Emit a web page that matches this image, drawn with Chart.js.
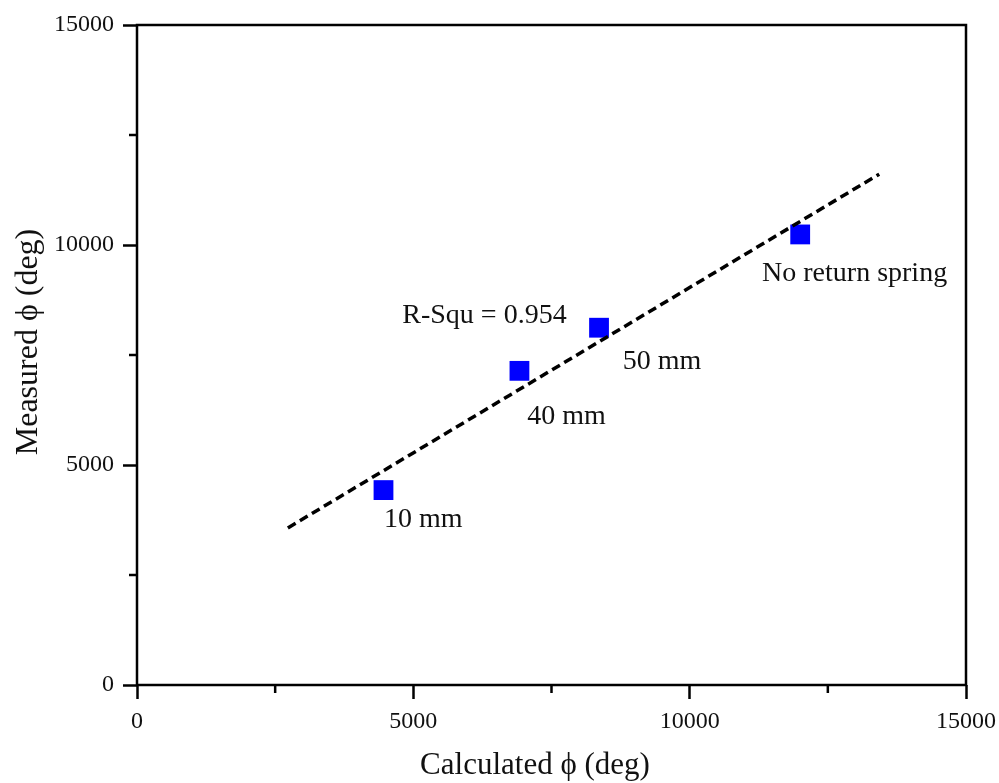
<!DOCTYPE html>
<html>
<head>
<meta charset="utf-8">
<script src="https://cdn.jsdelivr.net/npm/chart.js@4"></script>
<style>
  html, body { margin: 0; padding: 0; background: #fff; }
  #wrap { width: 999px; height: 783px; }
</style>
</head>
<body>
<div id="wrap"><canvas id="scatter"></canvas></div>
<script>
// measured vs calculated rotation
const labels = ["10 mm", "40 mm", "50 mm", "No return spring"];
const calculated = [4460, 6920, 8360, 12000];
const measured = [4430, 7140, 8120, 10240];

// linear fit end points
const fitX = [2730, 13430];
const fitY = [3570, 11610];
const rSquared = "R-Squ = 0.954";

// where the text labels sit (data units)
const labelX = [4470, 7060, 8790, 11310];
const labelY = [3750, 6090, 7340, 9340];
const rsqPos = [4800, 8390];

const serif = "'Liberation Serif', 'Times New Roman', serif";

const extras = {
  id: "extras",
  afterDraw(chart) {
    const { ctx, chartArea: a, scales: { x, y } } = chart;
    ctx.save();

    // frame
    ctx.strokeStyle = "#000";
    ctx.lineWidth = 2.5;
    ctx.strokeRect(a.left, a.top, a.right - a.left, a.bottom - a.top);

    // minor ticks
    for (const v of [2500, 7500, 12500]) {
      const px = x.getPixelForValue(v);
      ctx.beginPath();
      ctx.moveTo(px, a.bottom);
      ctx.lineTo(px, a.bottom + 8);
      ctx.stroke();
      const py = y.getPixelForValue(v);
      ctx.beginPath();
      ctx.moveTo(a.left, py);
      ctx.lineTo(a.left - 8, py);
      ctx.stroke();
    }

    // point labels
    ctx.fillStyle = "#111";
    ctx.font = "28px " + serif;
    ctx.textAlign = "left";
    ctx.textBaseline = "middle";
    labels.forEach((t, i) => {
      ctx.fillText(t, x.getPixelForValue(labelX[i]), y.getPixelForValue(labelY[i]));
    });
    ctx.fillText(rSquared, x.getPixelForValue(rsqPos[0]), y.getPixelForValue(rsqPos[1]));

    // axis titles
    ctx.font = "31px " + serif;
    ctx.textAlign = "center";
    ctx.fillText("Calculated \u03D5 (deg)", 535, 766);
    ctx.font = "32px " + serif;
    ctx.translate(29, 342);
    ctx.rotate(-Math.PI / 2);
    ctx.fillText("Measured \u03D5 (deg)", 0, 0);
    ctx.restore();
  }
};

const tickOpts = {
  stepSize: 2500,
  color: "#111",
  font: { family: serif, size: 24 },
  callback: (v) => (v % 5000 === 0 ? v : "")
};

const gridOpts = {
  drawOnChartArea: false,
  drawTicks: true,
  tickLength: 14,
  tickWidth: 2.5,
  tickColor: (c) => (c.tick && c.tick.value % 5000 === 0 ? "#000" : "rgba(0,0,0,0)")
};

new Chart(document.getElementById("scatter"), {
  type: "scatter",
  data: {
    datasets: [
      {
        label: "fit",
        type: "line",
        data: fitX.map((v, i) => ({ x: v, y: fitY[i] })),
        borderColor: "#000",
        borderWidth: 3.5,
        borderDash: [9, 5],
        pointRadius: 0,
        fill: false
      },
      {
        label: "data",
        data: calculated.map((v, i) => ({ x: v, y: measured[i] })),
        pointStyle: "rect",
        pointRadius: 14,
        pointBackgroundColor: "#0000ff",
        pointBorderColor: "#0000ff",
        pointBorderWidth: 0
      }
    ]
  },
  options: {
    responsive: true,
    maintainAspectRatio: false,
    animation: false,
    layout: { padding: { top: 25, right: 33, left: 0, bottom: 0 } },
    plugins: { legend: { display: false }, tooltip: { enabled: false } },
    scales: {
      x: {
        type: "linear",
        min: 0,
        max: 15000,
        border: { display: false },
        grid: gridOpts,
        ticks: { ...tickOpts, padding: 8, maxRotation: 0 },
        afterFit: (s) => {
          s.height = 98;
          s.paddingLeft = 0;
          s.paddingRight = 0;
        }
      },
      y: {
        type: "linear",
        min: 0,
        max: 15000,
        border: { display: false },
        grid: gridOpts,
        ticks: { ...tickOpts, padding: 9 },
        afterFit: (s) => {
          s.width = 137;
          s.paddingTop = 0;
          s.paddingBottom = 0;
        }
      }
    }
  },
  plugins: [extras]
});
</script>
</body>
</html>
